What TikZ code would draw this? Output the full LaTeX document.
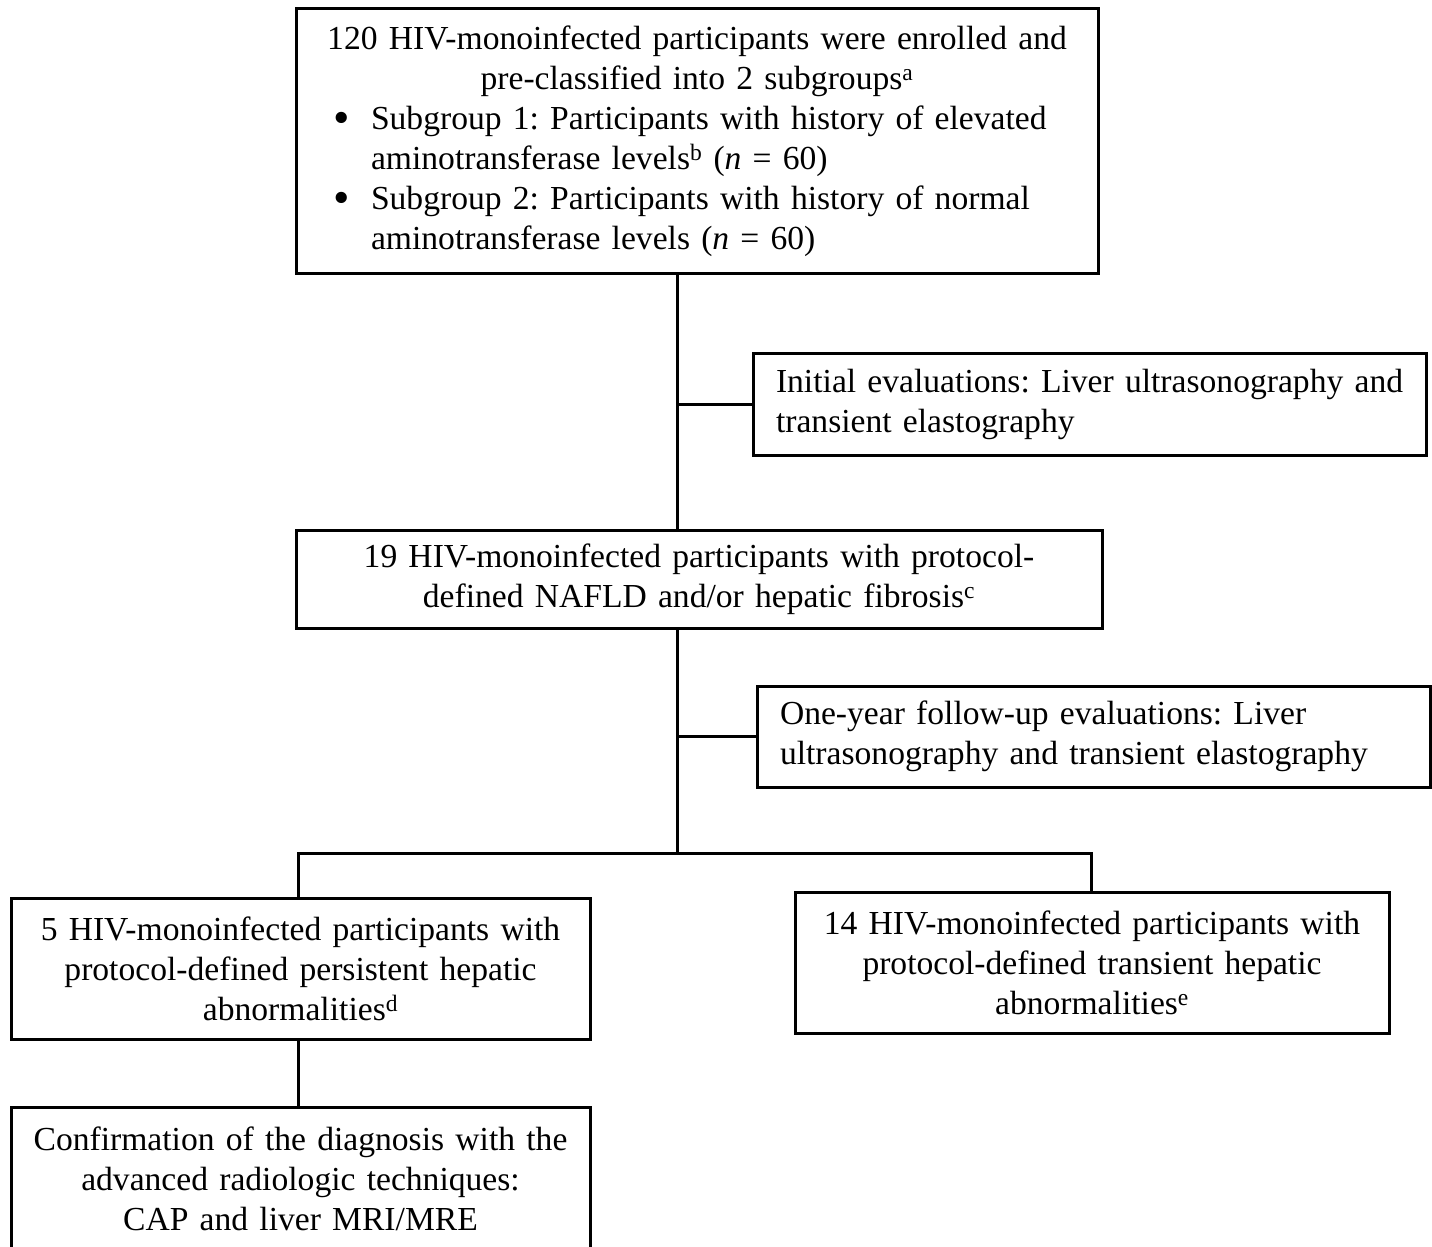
\documentclass[tikz,border=0pt]{standalone}
\usepackage{fontspec}
\setmainfont{Liberation Serif}
\frenchspacing
\newcommand{\bigbul}{\raisebox{-4pt}{\scalebox{1.4}{\textbullet}}}
\begin{document}
\begin{tikzpicture}[x=1pt,y=-1pt,
  box/.style={draw, line width=3pt, inner sep=0pt, outer sep=0pt,
    font=\fontsize{33.6}{40}\selectfont},
  link/.style={line width=3pt}]
\useasboundingbox (0,0) rectangle (1432,1247);

\node[box, minimum width=802pt, minimum height=264pt, text width=802pt, align=left] (top) at (697,141) {%
\makebox[802pt]{120 HIV-monoinfected participants were enrolled and}\\
\makebox[802pt]{pre-classified into 2 subgroups\textsuperscript{a}}\\
\hspace*{37pt}\makebox[38pt][l]{\bigbul}Subgroup 1: Participants with history of elevated\\
\hspace*{75pt}aminotransferase levels\textsuperscript{b} (\textit{n} = 60)\\
\hspace*{37pt}\makebox[38pt][l]{\bigbul}Subgroup 2: Participants with history of normal\\
\hspace*{75pt}aminotransferase levels (\textit{n} = 60)};

\node[box, minimum width=673pt, minimum height=102pt, inner xsep=23pt, text width=627pt, align=left] (init) at (1089.5,404) {\mbox{Initial evaluations: Liver ultrasonography and}\\ \mbox{transient elastography}};

\node[box, minimum width=806pt, minimum height=98pt, text width=806pt, align=center] (mid) at (699,579) {19 HIV-monoinfected participants with protocol-\\ defined NAFLD and/or hepatic fibrosis\textsuperscript{c}};

\node[box, minimum width=673pt, minimum height=101pt, inner xsep=23pt, text width=627pt, align=left] (follow) at (1093.5,736.5) {\mbox{One-year follow-up evaluations: Liver}\\ \mbox{ultrasonography and transient elastography}};

\node[box, minimum width=579pt, minimum height=141pt, text width=579pt, align=center] (persist) at (300.5,968.5) {5 HIV-monoinfected participants with\\ protocol-defined persistent hepatic\\ abnormalities\textsuperscript{d}};

\node[box, minimum width=594pt, minimum height=141pt, text width=594pt, align=center] (transient) at (1092,962.5) {14 HIV-monoinfected participants with\\ protocol-defined transient hepatic\\ abnormalities\textsuperscript{e}};

\node[box, minimum width=579pt, minimum height=143pt, text width=579pt, align=center] (confirm) at (300.5,1178.5) {Confirmation of the diagnosis with the\\ advanced radiologic techniques:\\ CAP and liver MRI/MRE};

\coordinate (ax) at (677,0);
\coordinate (split) at (677,853);
\coordinate (sl) at (298,853);
\coordinate (sr) at (1091,853);

\draw[link] (top.south -| ax) -- (mid.north -| ax);
\draw[link] (init.west -| ax) -- (init.west);
\draw[link] (mid.south -| ax) -- (split);
\draw[link] (follow.west -| ax) -- (follow.west);
\draw[link] (persist.north -| sl) -- (sl) -- (sr) -- (transient.north -| sr);
\draw[link] (persist.south -| sl) -- (confirm.north -| sl);
\end{tikzpicture}
\end{document}
